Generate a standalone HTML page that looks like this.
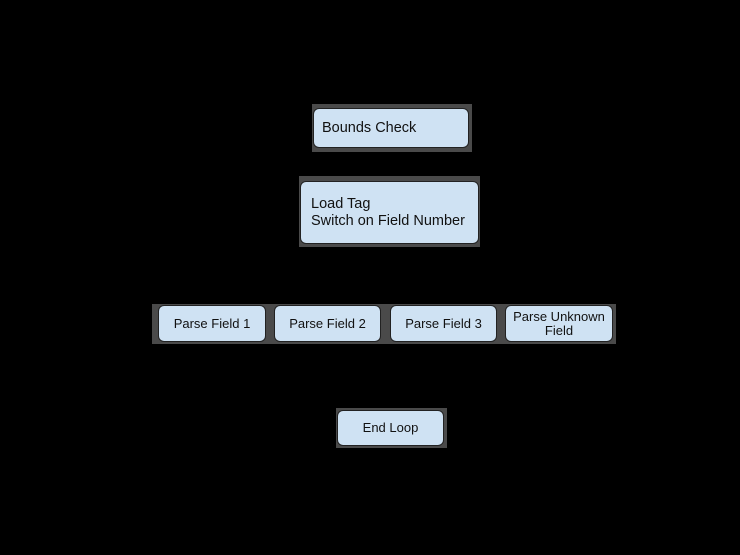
<!DOCTYPE html>
<html><head><style>
body{margin:0;width:740px;height:555px;background:#000;position:relative;overflow:hidden;font-family:"Liberation Sans",sans-serif}
.f{position:absolute;background:#4a4a4a}
.b{position:absolute;background:#cfe2f3;border:1px solid #222;border-radius:6px;box-sizing:border-box;color:#111;display:flex;align-items:center}
.c{justify-content:center;text-align:center;font-size:13px;line-height:14px}
</style></head><body>
<div class="f" style="left:312px;top:104px;width:160px;height:48px"></div>
<div class="b" style="left:313px;top:108px;width:156px;height:40px;font-size:14.5px;padding-left:8px">Bounds Check</div>
<div class="f" style="left:299px;top:176px;width:181px;height:71px"></div>
<div class="b" style="left:300px;top:181px;width:179px;height:63px;font-size:14.5px;padding-left:10px;line-height:17px">Load Tag<br>Switch on Field Number</div>
<div class="f" style="left:152px;top:304px;width:464px;height:40px"></div>
<div class="b c" style="left:158px;top:305px;width:108px;height:37px">Parse Field 1</div>
<div class="b c" style="left:274px;top:305px;width:107px;height:37px">Parse Field 2</div>
<div class="b c" style="left:390px;top:305px;width:107px;height:37px">Parse Field 3</div>
<div class="b c" style="left:505px;top:305px;width:108px;height:37px">Parse Unknown<br>Field</div>
<div class="f" style="left:336px;top:408px;width:111px;height:40px"></div>
<div class="b c" style="left:337px;top:410px;width:107px;height:36px">End Loop</div>
</body></html>
